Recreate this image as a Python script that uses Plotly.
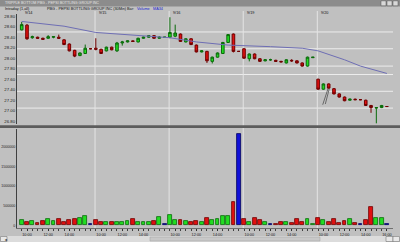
import plotly.graph_objects as go

# ---------------- data ----------------
days = ["9/14", "9/15", "9/16", "9/19", "9/20"]
times = ["09:30", "10:00", "10:30", "11:00", "11:30", "12:00", "12:30",
         "13:00", "13:30", "14:00", "14:30", "15:00", "15:30", "16:00"]

opens = [
    28.54, 28.63, 28.39, 28.40, 28.38, 28.38, 28.40, 28.40, 28.35, 28.27, 28.15, 28.05, 28.09, 28.18,
    28.19, 28.17, 28.14, 28.21, 28.14, 28.29, 28.31, 28.33, 28.31, 28.38, 28.40, 28.43, 28.38, 28.40,
    28.40, 28.42, 28.46, 28.31, 28.37, 28.25, 28.12, 28.13, 27.94, 28.02, 28.09, 28.30, 28.46, 28.13,
    28.18, 27.99, 28.08, 27.99, 27.95, 27.97, 27.96, 27.94, 27.91, 27.96, 27.95, 27.91, 27.85, 28.01,
    27.60, 27.41, 27.51, 27.42, 27.32, 27.26, 27.20, 27.22, 27.21, 27.20, 27.10, 27.05, 27.06, 27.08,
]
highs = [
    28.69, 28.65, 28.43, 28.41, 28.39, 28.44, 28.42, 28.45, 28.36, 28.28, 28.16, 28.11, 28.26, 28.19,
    28.38, 28.18, 28.22, 28.22, 28.31, 28.33, 28.34, 28.34, 28.39, 28.41, 28.44, 28.44, 28.42, 28.40,
    28.78, 28.64, 28.47, 28.38, 28.38, 28.26, 28.15, 28.14, 28.03, 28.11, 28.31, 28.46, 28.47, 28.13,
    28.19, 28.09, 28.09, 28.00, 27.98, 27.99, 27.97, 27.95, 27.98, 27.98, 27.96, 27.92, 28.03, 28.02,
    27.61, 27.52, 27.52, 27.43, 27.33, 27.27, 27.23, 27.23, 27.22, 27.21, 27.11, 27.07, 27.11, 27.08,
]
lows = [
    28.53, 28.35, 28.37, 28.37, 28.35, 28.37, 28.38, 28.37, 28.25, 28.13, 28.02, 28.04, 28.08, 28.17,
    28.15, 28.08, 28.13, 28.15, 28.12, 28.24, 28.30, 28.31, 28.30, 28.37, 28.39, 28.37, 28.37, 28.40,
    28.38, 28.40, 28.31, 28.30, 28.25, 28.11, 28.11, 27.91, 27.90, 28.01, 28.08, 28.29, 28.11, 28.13,
    27.99, 27.94, 27.98, 27.93, 27.94, 27.95, 27.93, 27.92, 27.90, 27.93, 27.90, 27.84, 27.84, 28.01,
    27.40, 27.40, 27.42, 27.31, 27.25, 27.18, 27.19, 27.20, 27.20, 27.09, 26.96, 26.76, 27.05, 27.08,
]
closes = [
    28.64, 28.37, 28.41, 28.38, 28.36, 28.41, 28.41, 28.38, 28.26, 28.14, 28.04, 28.10, 28.19, 28.18,
    28.17, 28.09, 28.21, 28.16, 28.29, 28.31, 28.33, 28.32, 28.38, 28.40, 28.43, 28.38, 28.40, 28.40,
    28.49, 28.48, 28.32, 28.37, 28.26, 28.12, 28.14, 27.95, 28.02, 28.10, 28.30, 28.45, 28.13, 28.13,
    28.00, 28.08, 27.99, 27.94, 27.97, 27.97, 27.94, 27.93, 27.97, 27.95, 27.91, 27.85, 28.02, 28.02,
    27.41, 27.51, 27.43, 27.32, 27.26, 27.19, 27.22, 27.21, 27.21, 27.10, 27.06, 27.06, 27.10, 27.08,
]
volumes = [
    135000, 84000, 117000, 50000, 110000, 152000, 117000, 152000, 75000, 135000, 169000, 194000, 237000, 25000,
    135000, 93000, 75000, 84000, 75000, 75000, 117000, 160000, 75000, 75000, 75000, 100000, 203000, 25000,
    262000, 135000, 135000, 110000, 75000, 110000, 93000, 177000, 135000, 160000, 237000, 237000, 600000, 2315000,
    160000, 75000, 194000, 135000, 84000, 33000, 25000, 93000, 75000, 58000, 152000, 93000, 160000, 33000,
    177000, 135000, 93000, 160000, 58000, 117000, 152000, 58000, 33000, 135000, 458000, 177000, 177000, 25000,
]
# moving average at selected bars
ma_bars = [0, 8, 14, 19, 23, 28, 33, 39, 47, 53, 56, 61, 64, 69]
ma_vals = [28.70, 28.61, 28.49, 28.45, 28.42, 28.39, 28.31, 28.25, 28.22, 28.19, 28.14, 27.97, 27.85, 27.71]
# horizontal level lines drawn on the price pane
level_lines = [28.50, 28.18, 27.85, 27.69, 27.37, 27.05]
price_ticks = [26.8, 27.0, 27.2, 27.4, 27.6, 27.8, 28.0, 28.2, 28.4, 28.6, 28.8]
vol_ticks = [0, 500000, 1000000, 1500000, 2000000]

# ---------------- derived ----------------
n_per_day = len(times)
idx = list(range(len(opens)))
labels = [f"{days[i // n_per_day]} {times[i % n_per_day]}" for i in idx]

up_fill, up_line = "#22dd22", "#0a6a0a"
dn_fill, dn_line = "#e01010", "#700000"
eq_fill, eq_line = "#1010d8", "#000060"
vfill, vline = [], []
for o, c in zip(opens, closes):
    if c > o:
        vfill.append(up_fill); vline.append(up_line)
    elif c < o:
        vfill.append(dn_fill); vline.append(dn_line)
    else:
        vfill.append(eq_fill); vline.append(eq_line)

W, H = 400, 242
def py(p):  # pixel row -> paper y
    return 1 - p / H
def px(p):
    return p / W

x0_px, x1_px = 17, 393
price_top, price_bot = 14, 124
vol_top, vol_bot = 129, 228

fig = go.Figure()
fig.add_trace(go.Candlestick(
    x=idx, open=opens, high=highs, low=lows, close=closes,
    increasing=dict(fillcolor=up_fill, line=dict(color=up_line, width=1)),
    decreasing=dict(fillcolor=dn_fill, line=dict(color=dn_line, width=1)),
    whiskerwidth=0, xaxis="x", yaxis="y", text=labels, hoverinfo="text",
))
fig.add_trace(go.Scatter(
    x=ma_bars, y=ma_vals, mode="lines",
    line=dict(color="#6e6eb4", width=1), xaxis="x", yaxis="y", hoverinfo="skip",
))
fig.add_trace(go.Bar(
    x=idx, y=volumes, width=0.72,
    marker=dict(color=vfill, line=dict(color=vline, width=0.8)),
    xaxis="x", yaxis="y2",
))

# x ticks: 10:00, 12:00, 14:00 each day, plus 16:00 on the last day
tick_vals, tick_text = [], []
for d in range(len(days)):
    for t in ["10:00", "12:00", "14:00"]:
        tick_vals.append(d * n_per_day + times.index(t))
        tick_text.append(t)
tick_vals.append(len(idx) - 1)
tick_text.append(times[-1])

tick_font = dict(family="Arial, Liberation Sans", size=3.8, color="#202020")

fig.update_layout(
    width=W, height=H, margin=dict(l=0, r=0, t=0, b=0),
    paper_bgcolor="#c0c0c0", plot_bgcolor="#c0c0c0",
    showlegend=False, bargap=0,
    xaxis=dict(
        domain=[px(x0_px), px(x1_px)], range=[-0.89, len(idx) - 1 + 1.15],
        anchor="y2", rangeslider=dict(visible=False),
        tickmode="array", tickvals=tick_vals, ticktext=tick_text,
        tickfont=tick_font, ticks="outside", ticklen=2, tickcolor="#303030",
        minor=dict(tickvals=idx, ticks="outside", ticklen=1.5, tickcolor="#404040"),
        showgrid=False, zeroline=False, showline=True, linecolor="#707070", linewidth=1,
    ),
    yaxis=dict(
        domain=[py(price_bot), py(price_top)], range=[26.747, 28.842],
        tickmode="array", tickvals=price_ticks, ticktext=[f"{v:.2f}" for v in price_ticks],
        tickfont=dict(family="Arial, Liberation Sans", size=4.3, color="#202020"),
        showgrid=False, zeroline=False, showline=True, linecolor="#404040", linewidth=1,
        ticks="", fixedrange=True,
    ),
    yaxis2=dict(
        domain=[py(vol_bot), py(vol_top)], range=[-68700, 2450000],
        tickmode="array", tickvals=vol_ticks, ticktext=[str(v) for v in vol_ticks],
        tickfont=dict(family="Arial, Liberation Sans", size=3.6, color="#202020"),
        showgrid=False, zeroline=False, showline=True, linecolor="#404040", linewidth=1,
        ticks="",
    ),
)

shapes = []
# title strip
shapes.append(dict(type="rect", xref="paper", yref="paper", x0=0, x1=1, y0=py(6.5), y1=1,
                   fillcolor="#8c8c8c", line=dict(width=0), layer="below"))
for bx in (381, 387, 393):
    shapes.append(dict(type="rect", xref="paper", yref="paper", x0=px(bx), x1=px(bx + 5),
                       y0=py(5.8), y1=py(0.8), fillcolor="#d8d8d8",
                       line=dict(color="#505050", width=0.5)))
# horizontal level lines (price pane)
for lv in level_lines:
    shapes.append(dict(type="line", xref="paper", yref="y", x0=px(x0_px), x1=px(x1_px),
                       y0=lv, y1=lv, line=dict(color="#ececec", width=1), layer="below"))
# day separators
for d in range(1, len(days)):
    xs = d * n_per_day - 0.15
    shapes.append(dict(type="line", xref="x", yref="paper", x0=xs, x1=xs,
                       y0=py(vol_bot), y1=py(11), line=dict(color="#e4e4e4", width=1), layer="below"))
# pane divider
shapes.append(dict(type="rect", xref="paper", yref="paper", x0=0, x1=1, y0=py(128), y1=py(125.3),
                   fillcolor="#5c5c5c", line=dict(width=0)))
# drawn trend strokes on the last day
for (a, b, c, e) in [(56.87, 27.114, 57.87, 27.419), (57.36, 27.127, 58.11, 27.419)]:
    shapes.append(dict(type="line", xref="x", yref="y", x0=a, y0=b, x1=c, y1=e,
                       line=dict(color="#505050", width=0.8)))
# scrollbar
shapes.append(dict(type="rect", xref="paper", yref="paper", x0=0, x1=1, y0=0, y1=py(236),
                   fillcolor="#dcdcdc", line=dict(width=0)))
shapes.append(dict(type="rect", xref="paper", yref="paper", x0=px(0.5), x1=px(7), y0=py(241.5), y1=py(236.5),
                   fillcolor="#e8e8e8", line=dict(color="#606060", width=0.5)))
shapes.append(dict(type="rect", xref="paper", yref="paper", x0=px(150), x1=px(320), y0=py(241), y1=py(237),
                   fillcolor="#c8c8c8", line=dict(color="#a0a0a0", width=0.5)))
shapes.append(dict(type="rect", xref="paper", yref="paper", x0=px(386), x1=px(393), y0=py(241.5), y1=py(236.5),
                   fillcolor="#e8e8e8", line=dict(color="#606060", width=0.5)))
shapes.append(dict(type="rect", xref="paper", yref="paper", x0=px(393), x1=px(399.5), y0=py(241.5), y1=py(236.5),
                   fillcolor="#e8e8e8", line=dict(color="#606060", width=0.5)))
fig.update_layout(shapes=shapes)

small = dict(family="Arial, Liberation Sans", size=3.8, color="#101010")
ann = [
    dict(text="TRIPPLE BOTTOM PBG - PEPSI BOTTLING GROUP INC", x=px(3), y=py(3.3),
         font=dict(family="Arial, Liberation Sans", size=3.6, color="#e8e8e8")),
    dict(text="Intraday (1,all)", x=px(3), y=py(9.2), font=small),
    dict(text="PBG - PEPSI BOTTLING GROUP INC (30Min)", x=px(45), y=py(9.2), font=small),
    dict(text="Bar:", x=px(125), y=py(9.2), font=small),
    dict(text="Volume", x=px(135), y=py(9.2), font=dict(family="Arial, Liberation Sans", size=3.8, color="#1a1ad0")),
    dict(text="MA34", x=px(151), y=py(9.2), font=dict(family="Arial, Liberation Sans", size=3.8, color="#1a1ad0")),
    dict(text="\u25c4", x=px(1.5), y=py(239), font=dict(size=3.5, color="#202020")),
]
for a in ann:
    a.update(xref="paper", yref="paper", xanchor="left", yanchor="middle", showarrow=False)
for d, lab in enumerate(days):
    ann.append(dict(text=lab, x=d * n_per_day + 0.15, y=py(12.8), xref="x", yref="paper",
                    xanchor="left", yanchor="middle", showarrow=False, font=small))
fig.update_layout(annotations=ann)

fig.write_html("out.html")
